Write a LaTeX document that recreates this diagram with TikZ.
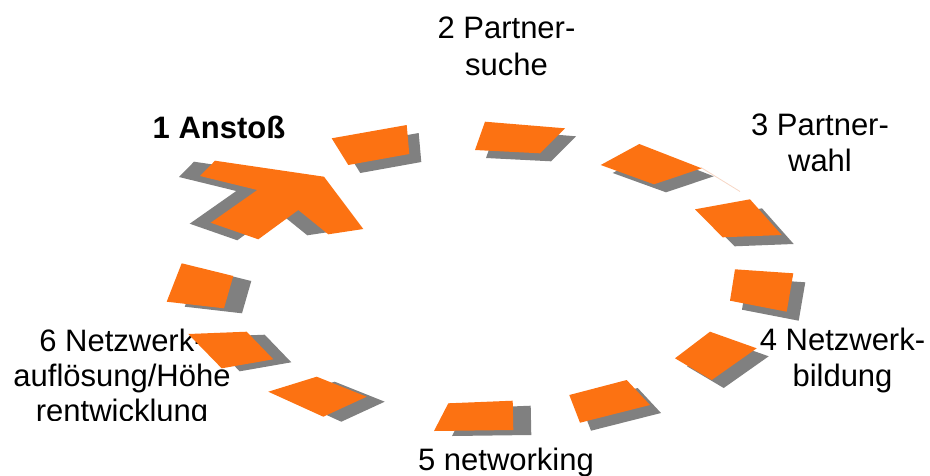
\documentclass[tikz,border=0pt]{standalone}
\usepackage{fontspec}
\setmainfont{Liberation Sans}
\definecolor{segorange}{HTML}{FC7212}
\definecolor{seggray}{HTML}{808080}
\definecolor{faintline}{HTML}{F6D6C4}
\begin{document}
\begin{tikzpicture}[x=1pt,y=-1pt,
  lbl/.style={font=\fontsize{31}{36.7}\selectfont, align=center, anchor=base, inner sep=0pt},
  boldlbl/.style={font=\fontsize{31}{36.7}\selectfont\bfseries, anchor=base, inner sep=0pt},
  face/.style={fill=segorange},
  shade/.style={fill=seggray}]
\useasboundingbox (0,0) rectangle (930,475);

% label 6 (under the ring, clipped at the bottom)
\begin{scope}
  \clip (0,300) rectangle (270,420.5);
  \node[lbl, font=\fontsize{31}{35}\selectfont] (l6) at (122,421.7) {6 Netzwerk-\\auflösung/Höhe\\rentwicklung};
\end{scope}

% shadows
\fill[shade, shift={(-21,1)}] (200,176) -- (215,160.7) -- (324,176.7) -- (363.3,229) -- (328.3,234.3) -- (298.3,210) -- (258.3,239.3) -- (210.7,222.7) -- (257.3,190) -- cycle;
\fill[shade, shift={(12,8)}] (331.7,138.3) -- (406.7,125) -- (409.3,154) -- (348.3,165) -- cycle;
\fill[shade, shift={(11,8)}] (485,121.7) -- (565,128.3) -- (540,153.3) -- (475,150) -- cycle;
\fill[shade, shift={(12,8)}] (600.7,165) -- (639.3,144) -- (701.7,168.3) -- (654,184.3) -- cycle;
\fill[shade, shift={(12,9)}] (695,209.3) -- (750,199.3) -- (781.7,235) -- (722.7,237.3) -- cycle;
\fill[shade, shift={(12,9)}] (735,269.3) -- (793.3,273.3) -- (786.7,311.7) -- (730,300.7) -- cycle;
\fill[shade, shift={(12,8)}] (675,358.3) -- (710,331.7) -- (756.7,348.3) -- (711.7,380) -- cycle;
\fill[shade, shift={(11,8)}] (569.3,395) -- (626.7,380) -- (650,405) -- (580,422.7) -- cycle;
\fill[shade, shift={(18,5)}] (448.3,403.3) -- (512.7,400.7) -- (513.3,430) -- (434,431) -- cycle;
\fill[shade, shift={(18,5)}] (268.3,391.7) -- (316.7,376.7) -- (366.7,396.7) -- (323.3,416.7) -- cycle;
\fill[shade, shift={(18,3)}] (188.3,334) -- (246.7,331.7) -- (273.3,359.3) -- (221.7,368.3) -- cycle;
\fill[shade, shift={(18,5)}] (181.7,263.3) -- (233.3,276) -- (224,308.3) -- (166.7,301.7) -- cycle;

% faint stroke next to segment 3
\draw[faintline, line width=0.8pt] (701,167.5) -- (740,191.5);

% orange faces
\fill[face] (200,176) -- (215,160.7) -- (324,176.7) -- (363.3,229) -- (328.3,234.3) -- (298.3,210) -- (258.3,239.3) -- (210.7,222.7) -- (257.3,190) -- cycle;
\fill[face] (331.7,138.3) -- (406.7,125) -- (409.3,154) -- (348.3,165) -- cycle;
\fill[face] (485,121.7) -- (565,128.3) -- (540,153.3) -- (475,150) -- cycle;
\fill[face] (600.7,165) -- (639.3,144) -- (701.7,168.3) -- (654,184.3) -- cycle;
\fill[face] (695,209.3) -- (750,199.3) -- (781.7,235) -- (722.7,237.3) -- cycle;
\fill[face] (735,269.3) -- (793.3,273.3) -- (786.7,311.7) -- (730,300.7) -- cycle;
\fill[face] (675,358.3) -- (710,331.7) -- (756.7,348.3) -- (711.7,380) -- cycle;
\fill[face] (569.3,395) -- (626.7,380) -- (650,405) -- (580,422.7) -- cycle;
\fill[face] (448.3,403.3) -- (512.7,400.7) -- (513.3,430) -- (434,431) -- cycle;
\fill[face] (268.3,391.7) -- (316.7,376.7) -- (366.7,396.7) -- (323.3,416.7) -- cycle;
\fill[face] (188.3,334) -- (246.7,331.7) -- (273.3,359.3) -- (221.7,368.3) -- cycle;
\fill[face] (181.7,263.3) -- (233.3,276) -- (224,308.3) -- (166.7,301.7) -- cycle;

% labels
\node[boldlbl] (l1) at (219,138.3) {1 Anstoß};
\node[lbl] (l2) at (506.5,75) {2 Partner-\\suche};
\node[lbl] (l3) at (820,171.7) {3 Partner-\\wahl};
\node[lbl] (l4) at (842.5,386.7) {4 Netzwerk-\\bildung};
\node[lbl] (l5) at (506,470) {5 networking};
\end{tikzpicture}
\end{document}
